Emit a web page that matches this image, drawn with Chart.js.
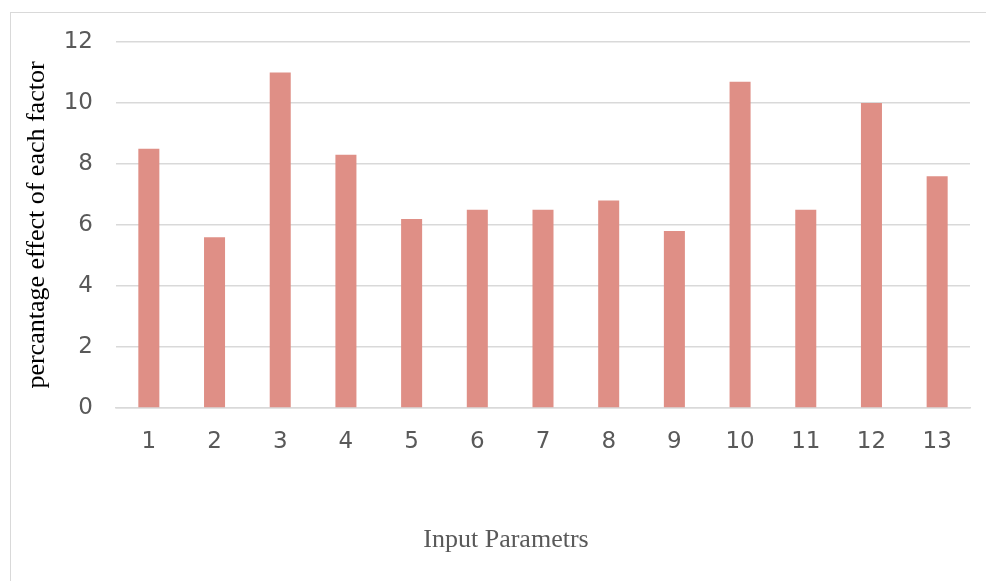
<!DOCTYPE html>
<html>
<head>
<meta charset="utf-8">
<script src="https://cdn.jsdelivr.net/npm/chart.js@4"></script>
<style>
html,body{margin:0;padding:0;background:#fff;overflow:hidden;}
#wrap{width:986px;height:581px;position:relative;}
</style>
</head>
<body>
<div id="wrap"><canvas id="c" width="986" height="581"></canvas></div>
<script>
const categories = ['1','2','3','4','5','6','7','8','9','10','11','12','13'];
const effectValues = [8.5, 5.6, 11.0, 8.3, 6.2, 6.5, 6.5, 6.8, 5.8, 10.7, 6.5, 10.0, 7.6];
const yTitle = 'percantage effect of each factor';
const xTitle = 'Input Parametrs';

const frame = {
  id: 'frame',
  beforeDraw(chart) {
    const ctx = chart.ctx;
    ctx.save();
    ctx.fillStyle = '#fff';
    ctx.fillRect(0, 0, chart.width, chart.height);
    ctx.strokeStyle = '#d9d9d9';
    ctx.lineWidth = 1;
    ctx.strokeRect(10.5, 12.5, 1200, 1200);
    ctx.restore();
  },
  afterDraw(chart) {
    const ctx = chart.ctx;
    ctx.save();
    ctx.fillStyle = '#595959';
    ctx.font = '26px "Liberation Serif"';
    ctx.textAlign = 'center';
    ctx.textBaseline = 'middle';
    ctx.fillText(xTitle, 506, 540);
    ctx.restore();
  }
};

new Chart(document.getElementById('c'), {
  type: 'bar',
  data: {
    labels: categories,
    datasets: [{
      data: effectValues,
      backgroundColor: '#df8f86',
      borderWidth: 0,
      categoryPercentage: 1,
      barPercentage: 0.32
    }]
  },
  options: {
    responsive: false,
    animation: false,
    devicePixelRatio: 1,
    layout: { padding: { left: 0, right: 16, top: 42, bottom: 0 } },
    plugins: { legend: { display: false }, tooltip: { enabled: false } },
    scales: {
      x: {
        afterFit(s) { s.height = 173; },
        grid: { display: false, drawTicks: false },
        border: { display: true, color: '#d9d9d9', width: 1.5 },
        ticks: { color: '#595959', font: { family: 'DejaVu Sans', size: 23 }, padding: 20 },
        title: { display: false, text: xTitle }
      },
      y: {
        afterFit(s) { s.width = 116; },
        min: 0, max: 12,
        ticks: { stepSize: 2, color: '#595959', font: { family: 'DejaVu Sans', size: 23 }, padding: 23 },
        grid: { color: '#d9d9d9', lineWidth: 1.5, drawTicks: false },
        border: { display: false },
        title: { display: true, text: yTitle, color: '#000', font: { family: 'Liberation Serif', size: 26 }, padding: { top: 22, bottom: 0 } }
      }
    }
  },
  plugins: [frame]
});
</script>
</body>
</html>
